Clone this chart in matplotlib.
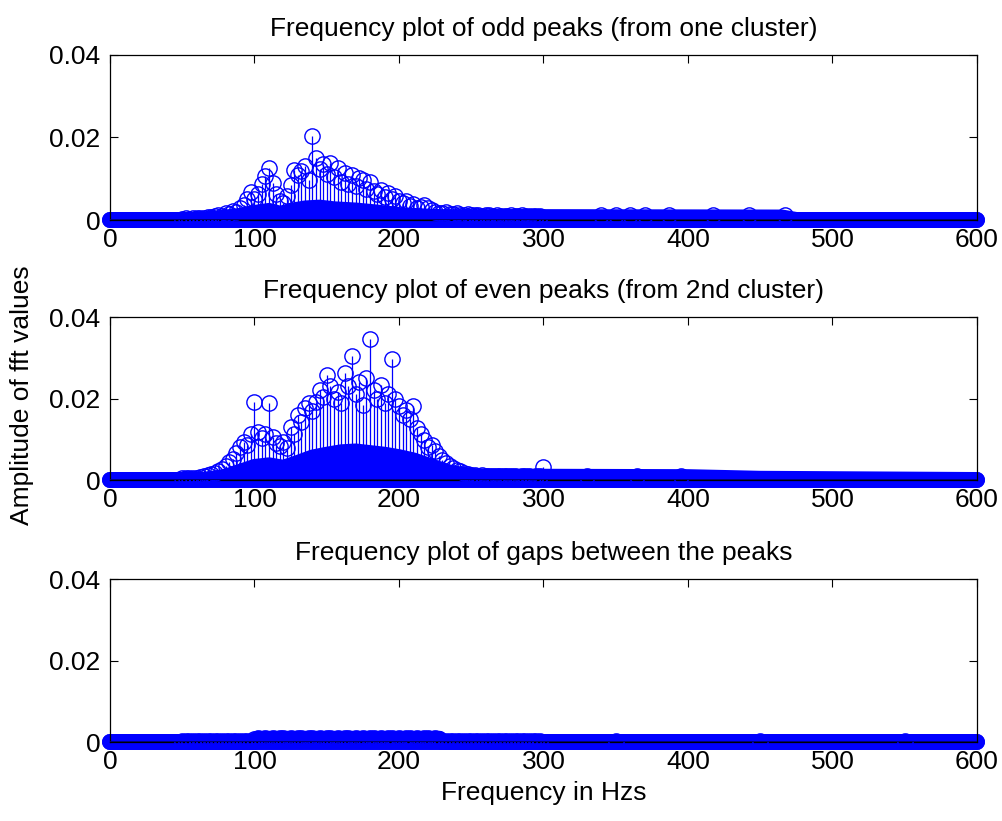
"""
FFT stem plots of odd peaks, even peaks and the gaps between them.
Three stacked panels sharing one amplitude label, MATLAB-style look.
"""

import matplotlib

matplotlib.use("Agg")
import matplotlib.pyplot as plt
import numpy as np

W, H, DPI = 1003, 821, 100
BLUE = (0, 0, 1)
BASE = (0, 0, 0.45)
FS = 19

plt.rcParams.update(
    {
        "font.family": ["Liberation Sans", "DejaVu Sans"],
        "font.size": FS,
        "axes.linewidth": 0.9,
        "axes.edgecolor": "black",
        "xtick.direction": "in",
        "ytick.direction": "in",
        "xtick.major.size": 5.5,
        "ytick.major.size": 5.5,
        "xtick.major.width": 0.8,
        "ytick.major.width": 0.8,
        "xtick.top": True,
        "ytick.right": True,
        "figure.facecolor": "white",
    }
)

X_TICKS = [0, 100, 200, 300, 400, 500, 600]
Y_TICKS = [0, 0.02, 0.04]
Y_TICKLABELS = ["0", "0.02", "0.04"]

TITLES = [
    "Frequency plot of odd peaks (from one cluster)",
    "Frequency plot of even peaks (from 2nd cluster)",
    "Frequency plot of gaps between the peaks",
]

# fft bins of the region where the spectrum rises, 2.5 Hz apart (50 .. 297.5 Hz)
HUMP_FREQ = np.arange(50, 300, 2.5)

ODD_HUMP = [
    0.0003, 0.0004, 0.0003, 0.0005, 0.0004, 0.0006, 0.0005, 0.0008, 0.0007, 0.0010,
    0.0012, 0.0010, 0.0016, 0.0014, 0.0022, 0.0020, 0.0030, 0.0036, 0.0050, 0.0068,
    0.0052, 0.0064, 0.0088, 0.0106, 0.0126, 0.0090, 0.0062, 0.0046, 0.0040, 0.0058,
    0.0085, 0.0122, 0.0108, 0.0118, 0.0132, 0.0098, 0.0203, 0.0150, 0.0124, 0.0136,
    0.0112, 0.0139, 0.0104, 0.0126, 0.0092, 0.0114, 0.0088, 0.0110, 0.0082, 0.0102,
    0.0098, 0.0076, 0.0092, 0.0070, 0.0064, 0.0073, 0.0056, 0.0066, 0.0050, 0.0058,
    0.0045, 0.0040, 0.0046, 0.0034, 0.0038, 0.0030, 0.0032, 0.0037, 0.0028, 0.0024,
    0.0020, 0.0018, 0.0016, 0.0019, 0.0015, 0.0014, 0.0016, 0.0013, 0.0012, 0.0014,
    0.0012, 0.0011, 0.0013, 0.0010, 0.0012, 0.0011, 0.0010, 0.0011, 0.0009, 0.0010,
    0.0010, 0.0011, 0.0009, 0.0010, 0.0011, 0.0009, 0.0010, 0.0009, 0.0010, 0.0009,
]

EVEN_HUMP = [
    0.0004, 0.0005, 0.0004, 0.0006, 0.0005, 0.0008, 0.0009, 0.0012, 0.0014, 0.0018,
    0.0022, 0.0028, 0.0034, 0.0044, 0.0052, 0.0066, 0.0080, 0.0094, 0.0086, 0.0112,
    0.0192, 0.0118, 0.0102, 0.0112, 0.0188, 0.0106, 0.0092, 0.0084, 0.0094, 0.0078,
    0.0130, 0.0112, 0.0160, 0.0142, 0.0176, 0.0188, 0.0170, 0.0192, 0.0220, 0.0204,
    0.0257, 0.0230, 0.0200, 0.0215, 0.0190, 0.0262, 0.0230, 0.0305, 0.0210, 0.0240,
    0.0185, 0.0250, 0.0345, 0.0220, 0.0198, 0.0232, 0.0190, 0.0212, 0.0298, 0.0200,
    0.0182, 0.0160, 0.0172, 0.0150, 0.0181, 0.0127, 0.0112, 0.0098, 0.0082, 0.0086,
    0.0072, 0.0060, 0.0049, 0.0042, 0.0035, 0.0030, 0.0025, 0.0021, 0.0018, 0.0015,
    0.0013, 0.0012, 0.0011, 0.0012, 0.0010, 0.0011, 0.0010, 0.0009, 0.0010, 0.0009,
    0.0009, 0.0010, 0.0009, 0.0008, 0.0009, 0.0010, 0.0009, 0.0008, 0.0009, 0.0010,
]

GAP_HUMP = [
    0.0002, 0.0002, 0.0003, 0.0002, 0.0002, 0.0003, 0.0002, 0.0002, 0.0003, 0.0002,
    0.0002, 0.0003, 0.0002, 0.0002, 0.0003, 0.0002, 0.0002, 0.0003, 0.0002, 0.0003,
    0.0008, 0.0009, 0.0008, 0.0010, 0.0008, 0.0009, 0.0008, 0.0009, 0.0010, 0.0008,
    0.0009, 0.0008, 0.0010, 0.0009, 0.0008, 0.0009, 0.0010, 0.0008, 0.0009, 0.0008,
    0.0010, 0.0009, 0.0008, 0.0009, 0.0008, 0.0010, 0.0009, 0.0008, 0.0009, 0.0008,
    0.0009, 0.0008, 0.0010, 0.0009, 0.0008, 0.0009, 0.0008, 0.0010, 0.0009, 0.0008,
    0.0009, 0.0008, 0.0009, 0.0010, 0.0008, 0.0009, 0.0008, 0.0009, 0.0010, 0.0008,
    0.0009, 0.0008, 0.0003, 0.0002, 0.0002, 0.0003, 0.0002, 0.0002, 0.0003, 0.0002,
    0.0002, 0.0003, 0.0002, 0.0002, 0.0003, 0.0002, 0.0002, 0.0003, 0.0002, 0.0002,
    0.0003, 0.0002, 0.0002, 0.0003, 0.0002, 0.0002, 0.0003, 0.0002, 0.0002, 0.0003,
]

# isolated stems sticking out of the noise further up the spectrum
ODD_TAIL_FREQ = [340, 350, 360, 370, 387, 417, 442, 467]
ODD_TAIL_AMP = [0.0012, 0.0011, 0.0012, 0.0011, 0.0012, 0.0012, 0.0011, 0.0011]
EVEN_TAIL_FREQ = [300, 330, 365, 395]
EVEN_TAIL_AMP = [0.0033, 0.0010, 0.0010, 0.0010]
GAP_TAIL_FREQ = [350, 450, 550]
GAP_TAIL_AMP = [0.0002, 0.0002, 0.0002]

# upper edge of the dense mass of near-zero bins (solid blue band)
ODD_FLOOR_FREQ = [0, 60, 75, 90, 100, 110, 118, 125, 135, 145, 155, 170, 185, 200,
                  215, 230, 250, 300, 465, 475, 600]
ODD_FLOOR_AMP = [0, 0, 0.0004, 0.0010, 0.0017, 0.0022, 0.0015, 0.0022, 0.0028, 0.0030,
                 0.0026, 0.0023, 0.0018, 0.0012, 0.0009, 0.0007, 0.0007, 0.0007, 0.0006, 0, 0]
EVEN_FLOOR_FREQ = [0, 65, 80, 90, 100, 110, 120, 130, 140, 150, 160, 170, 180, 190,
                   200, 210, 220, 235, 250, 300, 400, 450, 600]
EVEN_FLOOR_AMP = [0, 0, 0.0008, 0.0020, 0.0032, 0.0036, 0.0030, 0.0042, 0.0055, 0.0062,
                  0.0068, 0.0070, 0.0066, 0.0062, 0.0056, 0.0048, 0.0036, 0.0018, 0.0009,
                  0.0008, 0.0007, 0.0003, 0]
GAP_FLOOR_FREQ = [0, 100, 102, 228, 230, 600]
GAP_FLOOR_AMP = [0, 0, 0.0008, 0.0008, 0, 0]

PANELS = [
    (TITLES[0], ODD_HUMP, ODD_TAIL_FREQ, ODD_TAIL_AMP, ODD_FLOOR_FREQ, ODD_FLOOR_AMP),
    (TITLES[1], EVEN_HUMP, EVEN_TAIL_FREQ, EVEN_TAIL_AMP, EVEN_FLOOR_FREQ, EVEN_FLOOR_AMP),
    (TITLES[2], GAP_HUMP, GAP_TAIL_FREQ, GAP_TAIL_AMP, GAP_FLOOR_FREQ, GAP_FLOOR_AMP),
]

# axes boxes in pixels: left/right, then top/bottom per panel
LEFT, RIGHT = 110, 977
BOXES = [(55, 220), (317, 480), (579, 742)]

fig = plt.figure(figsize=(W / DPI, H / DPI), dpi=DPI)

axes = []
for (top, bottom), (title, hump, tf, ta, ff, fa) in zip(BOXES, PANELS):
    ax = fig.add_axes([LEFT / W, 1 - bottom / H, (RIGHT - LEFT) / W, (bottom - top) / H])
    freq = np.concatenate([HUMP_FREQ, tf])
    amp = np.concatenate([hump, ta])

    # dense floor of tiny bins: reads as a solid band of overlapping circles
    ax.fill_between(ff, 0, fa, color=BLUE, lw=0, clip_on=False, zorder=2)
    ax.plot(ff, fa, color=BLUE, lw=11.5, solid_capstyle="round", clip_on=False, zorder=2)
    ax.plot(ff, np.zeros(len(ff)), color=BLUE, lw=11.5, solid_capstyle="round",
            clip_on=False, zorder=2)

    ax.vlines(freq, 0, amp, color=BLUE, lw=0.9, zorder=3)
    ax.plot(freq, amp, "o", mfc="none", mec=BLUE, ms=11, mew=1.0, clip_on=False, zorder=4)
    ax.axhline(0, color=BASE, lw=1.3, zorder=5)

    ax.set_xlim(0, 600)
    ax.set_ylim(0, 0.04)
    ax.set_xticks(X_TICKS)
    ax.set_yticks(Y_TICKS)
    ax.set_yticklabels(Y_TICKLABELS)
    ax.tick_params(axis="x", pad=6)
    ax.tick_params(axis="y", pad=7)
    ax.set_title(title, fontsize=FS, pad=14)
    axes.append(ax)

axes[-1].set_xlabel("Frequency in Hzs", fontsize=FS, labelpad=5)
fig.text(22 / W, 1 - 395 / H, "Amplitude of fft values", rotation=90,
         ha="center", va="center", fontsize=FS)

fig.savefig("out.png", dpi=DPI)
